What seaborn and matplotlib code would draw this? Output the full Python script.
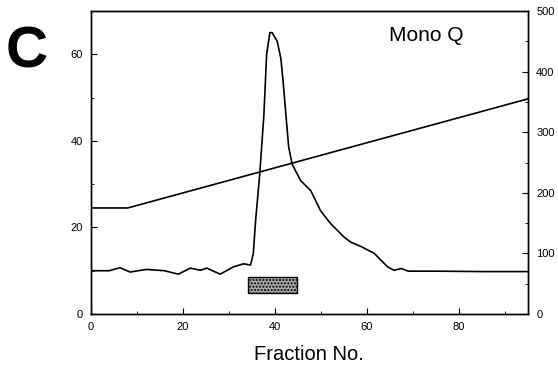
import matplotlib
matplotlib.use("Agg")
import matplotlib.pyplot as plt
import seaborn as sns
import pandas as pd
from matplotlib.ticker import MultipleLocator

# Protein elution profile (left axis)
fraction = [0, 4, 6.3, 8.5, 12.1, 16, 19, 21.6, 23.8, 25.2, 28.1, 31.0, 33.2, 34.7,
            35.3, 35.8, 36.7, 37.6, 38.2, 38.9, 39.4, 40.5, 41.3, 41.9, 42.5, 43.0, 43.75,
            45.6, 47.8, 49.9, 52.1, 55.0, 56.5, 58.7, 61.6, 63.0, 64.5, 65.9, 67.5,
            69.0, 75, 85, 95]
absorbance = [10.0, 10.0, 10.7, 9.7, 10.3, 10.0, 9.2, 10.6, 10.1, 10.6, 9.2, 10.9, 11.6, 11.3,
              14.0, 21.6, 32.3, 46.0, 60.0, 65.0, 65.0, 63.0, 59.0, 52.3, 44.6, 38.5, 34.6,
              30.8, 28.5, 23.9, 20.9, 17.8, 16.6, 15.6, 14.0, 12.5, 10.9, 10.1, 10.5,
              9.9, 9.9, 9.8, 9.8]

# Salt gradient (right axis)
grad_fraction = [0, 8, 95]
grad_conc = [175, 175, 355]

# Pooled fractions bar
pool_start, pool_end = 34.2, 44.7
pool_low, pool_high = 4.8, 8.5

sns.set_style("ticks")
plt.rcParams['font.family'] = ['Liberation Sans', 'DejaVu Sans']
plt.rcParams['text.color'] = 'black'
plt.rcParams['xtick.color'] = 'black'
plt.rcParams['ytick.color'] = 'black'

fig = plt.figure(figsize=(5.58, 3.67), dpi=100)
ax = fig.add_axes([0.163, 0.1444, 0.783, 0.8256])

df1 = pd.DataFrame({"fraction": fraction, "abs": absorbance})
sns.lineplot(data=df1, x="fraction", y="abs", ax=ax, color="black", linewidth=1.2)
ax.set_xlim(0, 95)
ax.set_ylim(0, 70)

ax.add_patch(plt.Rectangle((pool_start, pool_low), pool_end - pool_start, pool_high - pool_low,
                           facecolor="#a8a8a8", edgecolor="black", linewidth=1.0, hatch="....."))

ax2 = ax.twinx()
df2 = pd.DataFrame({"fraction": grad_fraction, "conc": grad_conc})
sns.lineplot(data=df2, x="fraction", y="conc", ax=ax2, color="black", linewidth=1.2)
ax2.set_ylim(0, 500)
ax2.set_xlim(0, 95)

for a in (ax, ax2):
    a.set_xlabel("")
    a.set_ylabel("")
    for s in a.spines.values():
        s.set_visible(True)
        s.set_color("black")
        s.set_linewidth(1.0)

ax.xaxis.set_major_locator(MultipleLocator(20))
ax.xaxis.set_minor_locator(MultipleLocator(10))
ax.yaxis.set_major_locator(MultipleLocator(20))
ax.yaxis.set_minor_locator(MultipleLocator(10))
ax2.yaxis.set_major_locator(MultipleLocator(100))
ax2.yaxis.set_minor_locator(MultipleLocator(50))

ax.tick_params(axis="both", which="major", direction="in", length=4, labelsize=8, pad=6,
               top=False, right=False, colors="black")
ax.tick_params(axis="both", which="minor", direction="in", length=2.5, top=False, right=False)
ax2.tick_params(axis="y", which="major", direction="in", length=4, labelsize=8, pad=6, colors="black")
ax2.tick_params(axis="y", which="minor", direction="in", length=2.5)

fig.text(0.553, 0.035, "Fraction No.", ha="center", va="center", fontsize=14.5, color="black")
ax.text(72.8, 64.4, "Mono Q", ha="center", va="center", fontsize=15, color="black")
fig.text(0.048, 0.856, "C", ha="center", va="center", fontsize=42, fontweight="bold", color="black")

fig.savefig("out.png", dpi=100)
